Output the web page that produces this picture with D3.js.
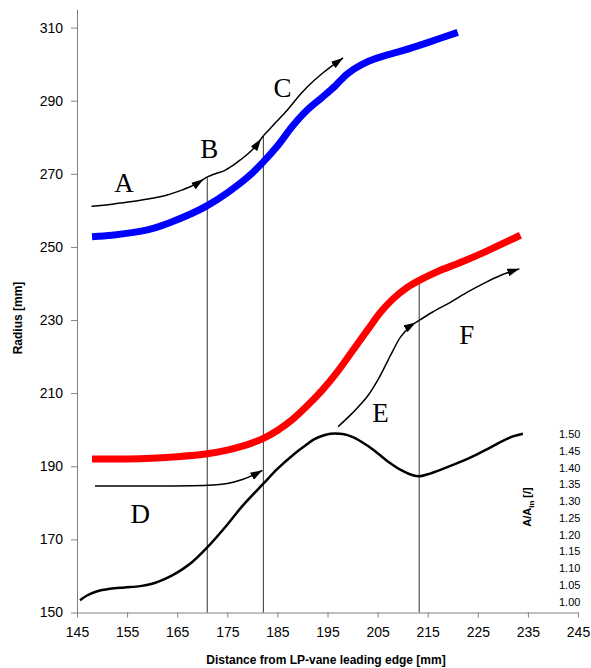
<!DOCTYPE html>
<html>
<head>
<meta charset="utf-8">
<script src="https://cdn.jsdelivr.net/npm/d3@7"></script>
<style>
  html, body { margin: 0; padding: 0; background: #fff; }
  svg { display: block; }
  .tick text { font-family: "Liberation Sans", Arial, sans-serif; fill: #000; }
</style>
</head>
<body>
<svg id="chart" width="591" height="668"></svg>
<script>
// Distance from LP-vane leading edge [mm] and radius [mm]
const xTicks = [145, 155, 165, 175, 185, 195, 205, 215, 225, 235, 245];
const yTicks = [150, 170, 190, 210, 230, 250, 270, 290, 310];
const ratioTicks = [1.00, 1.05, 1.10, 1.15, 1.20, 1.25, 1.30, 1.35, 1.40, 1.45, 1.50];

// Outer (tip) contour
const tipContour = [
  [148, 252.8], [152, 253.2], [156, 253.9], [160, 255.0], [164, 256.9], [168, 259.2],
  [171, 261.3], [175, 264.8], [179, 269.0], [182, 273.0], [185, 277.6], [188, 283.0],
  [191, 287.5], [194, 291.0], [196.5, 294.0], [199, 297.4], [202, 300.0],
  [205, 301.7], [210, 303.7], [215, 305.9], [221, 308.7]
];

// Inner (hub) contour
const hubContour = [
  [148, 192.0], [155, 192.0], [160, 192.2], [165, 192.6], [171, 193.4], [175, 194.4],
  [178, 195.5], [180, 196.4], [182, 197.5], [185, 199.8], [188, 202.8], [191, 206.6],
  [194, 210.9], [197, 215.9], [200, 221.6], [203, 227.3], [205.5, 232.0], [208, 235.7],
  [211, 239.0], [213.5, 241.0], [217, 243.3], [222, 246.0], [227, 249.0], [233.5, 253.2]
];

// Area ratio A/A_in along the duct
const areaRatio = [
  [145.6, 1.004], [147, 1.018], [148.9, 1.030], [151.6, 1.038], [154.5, 1.042],
  [157.6, 1.046], [160, 1.053], [162, 1.064], [164, 1.078], [166, 1.096],
  [168, 1.118], [170.9, 1.160], [174.9, 1.228], [178, 1.285], [182.2, 1.352],
  [185, 1.396], [188.3, 1.440], [190.5, 1.465], [192.3, 1.484], [194, 1.495],
  [195.6, 1.501], [197.5, 1.501], [199, 1.497], [200.5, 1.488], [202, 1.475],
  [204, 1.455], [206.9, 1.420], [210, 1.390], [212, 1.377], [213.3, 1.374],
  [215, 1.380], [218, 1.396], [221, 1.414], [223.7, 1.431], [227, 1.456],
  [230, 1.480], [232, 1.493], [234, 1.501]
];

// Flow-path arrows near the tip (A, B, C) and the hub (D, E, F)
const arrowA = [[147.9, 261.1], [152, 261.7], [156, 262.4], [160, 263.3], [163, 264.2], [166, 265.6], [168.3, 266.9], [170.9, 269.1]];
const arrowB = [[170.9, 269.1], [173, 270.2], [174.3, 270.8], [176, 272.2], [177.6, 273.8], [180, 276.6], [182.2, 280.4]];
const arrowC = [[182.2, 280.4], [184.5, 283.8], [186.9, 287.3], [189, 290.8], [190.9, 293.7], [194, 297.5], [198.1, 301.7]];
const arrowD = [[148.6, 184.6], [160, 184.6], [171, 184.8], [175, 185.3], [178, 186.4], [180.5, 187.8], [182, 188.9]];
const arrowE = [[197.1, 200.8], [200, 204.6], [202.9, 209.0], [205, 213.5], [206.9, 218.5], [208.2, 222.0], [209.6, 225.4], [211.5, 228.2], [213.3, 229.9]];
const arrowF = [[213.3, 229.9], [216, 232.2], [219.6, 234.9], [223, 237.7], [226.3, 240.1], [229.5, 242.2], [233.3, 244.0]];

// Section positions (x) and the radius each marker line reaches
const sectionLines = [[171, 269.1], [182.2, 280.4], [213.3, 241.0]];

// Letter labels placed in data coordinates
const zoneLabels = [
  { t: "A", x: 154.4, y: 265.0 },
  { t: "B", x: 171.4, y: 274.3 },
  { t: "C", x: 186.0, y: 291.0 },
  { t: "D", x: 157.6, y: 174.5 },
  { t: "E", x: 205.6, y: 202.1 },
  { t: "F", x: 222.8, y: 223.5 }
];

const svg = d3.select("#chart");

const x = d3.scaleLinear().domain([145, 245]).range([77, 578]);
const y = d3.scaleLinear().domain([150, 315]).range([612.5, 9.3]);
// Secondary scale for the area ratio, sharing the plot height
const yR = d3.scaleLinear().domain([1.0, 1.5]).range([y(153.0), y(198.8)]);

const axisColor = "#808080";

// Left axis
const gy = svg.append("g")
  .attr("transform", `translate(${x(145)},0)`)
  .call(d3.axisLeft(y).tickValues(yTicks).tickSize(6).tickSizeOuter(0).tickPadding(8));
gy.select(".domain").attr("stroke", axisColor);
gy.selectAll(".tick line").attr("stroke", axisColor);
gy.selectAll(".tick text").attr("font-size", 14);

// Bottom axis
const gx = svg.append("g")
  .attr("transform", `translate(0,${y(150)})`)
  .call(d3.axisBottom(x).tickValues(xTicks).tickSize(5).tickSizeOuter(0).tickPadding(10));
gx.select(".domain").attr("stroke", axisColor);
gx.selectAll(".tick line").attr("stroke", axisColor);
gx.selectAll(".tick text").attr("font-size", 14);

// Right-hand ratio labels (no axis line)
const gr = svg.append("g")
  .attr("transform", `translate(559,0)`)
  .call(d3.axisRight(yR).tickValues(ratioTicks).tickSize(0).tickPadding(0).tickFormat(d3.format(".2f")));
gr.select(".domain").remove();
gr.selectAll(".tick text").attr("font-size", 11);

// Section marker lines
svg.append("g").selectAll("line")
  .data(sectionLines)
  .join("line")
  .attr("x1", d => x(d[0])).attr("x2", d => x(d[0]))
  .attr("y1", y(150)).attr("y2", d => y(d[1]))
  .attr("stroke", "#333").attr("stroke-width", 1);

const line = d3.line().x(d => x(d[0])).y(d => y(d[1])).curve(d3.curveCatmullRom);
const lineR = d3.line().x(d => x(d[0])).y(d => yR(d[1])).curve(d3.curveCatmullRom);

// Tip and hub contours
svg.append("path").datum(tipContour)
  .attr("d", line).attr("fill", "none").attr("stroke", "#0000ff").attr("stroke-width", 7);
svg.append("path").datum(hubContour)
  .attr("d", line).attr("fill", "none").attr("stroke", "#ff0000").attr("stroke-width", 7);

// Area ratio curve
svg.append("path").datum(areaRatio)
  .attr("d", lineR).attr("fill", "none").attr("stroke", "#000").attr("stroke-width", 2.5)
  .attr("stroke-linejoin", "round");

// Arrowheads
const defs = svg.append("defs");
function addMarker(id, back) {
  defs.append("marker")
    .attr("id", id)
    .attr("viewBox", "0 0 12 8")
    .attr("refX", 12 + back).attr("refY", 4)
    .attr("markerWidth", 12).attr("markerHeight", 8)
    .attr("markerUnits", "userSpaceOnUse")
    .attr("orient", "auto")
    .append("path").attr("d", "M0,0L12,4L0,8Z").attr("fill", "#000");
}
addMarker("head", 0);
addMarker("headBack", 4);

const arrowLine = d3.line().x(d => x(d[0])).y(d => y(d[1])).curve(d3.curveCatmullRom);
[[arrowA, "headBack"], [arrowB, "headBack"], [arrowC, "head"],
 [arrowD, "head"], [arrowE, "headBack"], [arrowF, "head"]].forEach(([pts, m]) => {
  svg.append("path").datum(pts)
    .attr("d", arrowLine).attr("fill", "none").attr("stroke", "#000").attr("stroke-width", 1.5)
    .attr("marker-end", `url(#${m})`);
});

// Zone letters
svg.append("g").selectAll("text")
  .data(zoneLabels)
  .join("text")
  .attr("x", d => x(d.x)).attr("y", d => y(d.y))
  .attr("text-anchor", "middle")
  .attr("font-family", "'Liberation Serif', 'Times New Roman', serif")
  .attr("font-size", 27)
  .text(d => d.t);

// Axis titles
svg.append("text")
  .attr("transform", `translate(22,318) rotate(-90)`)
  .attr("text-anchor", "middle")
  .attr("font-family", "'Liberation Sans', Arial, sans-serif")
  .attr("font-weight", "bold").attr("font-size", 12)
  .text("Radius [mm]");

svg.append("text")
  .attr("x", 326).attr("y", 664)
  .attr("text-anchor", "middle")
  .attr("font-family", "'Liberation Sans', Arial, sans-serif")
  .attr("font-weight", "bold").attr("font-size", 12)
  .text("Distance from LP-vane leading edge [mm]");

const rt = svg.append("text")
  .attr("transform", `translate(531,507) rotate(-90)`)
  .attr("text-anchor", "middle")
  .attr("font-family", "'Liberation Sans', Arial, sans-serif")
  .attr("font-weight", "bold").attr("font-size", 11);
rt.append("tspan").text("A/A");
rt.append("tspan").attr("font-size", 8).attr("dy", 3).text("in");
rt.append("tspan").attr("dy", -3).text(" [/]");
</script>
</body>
</html>
